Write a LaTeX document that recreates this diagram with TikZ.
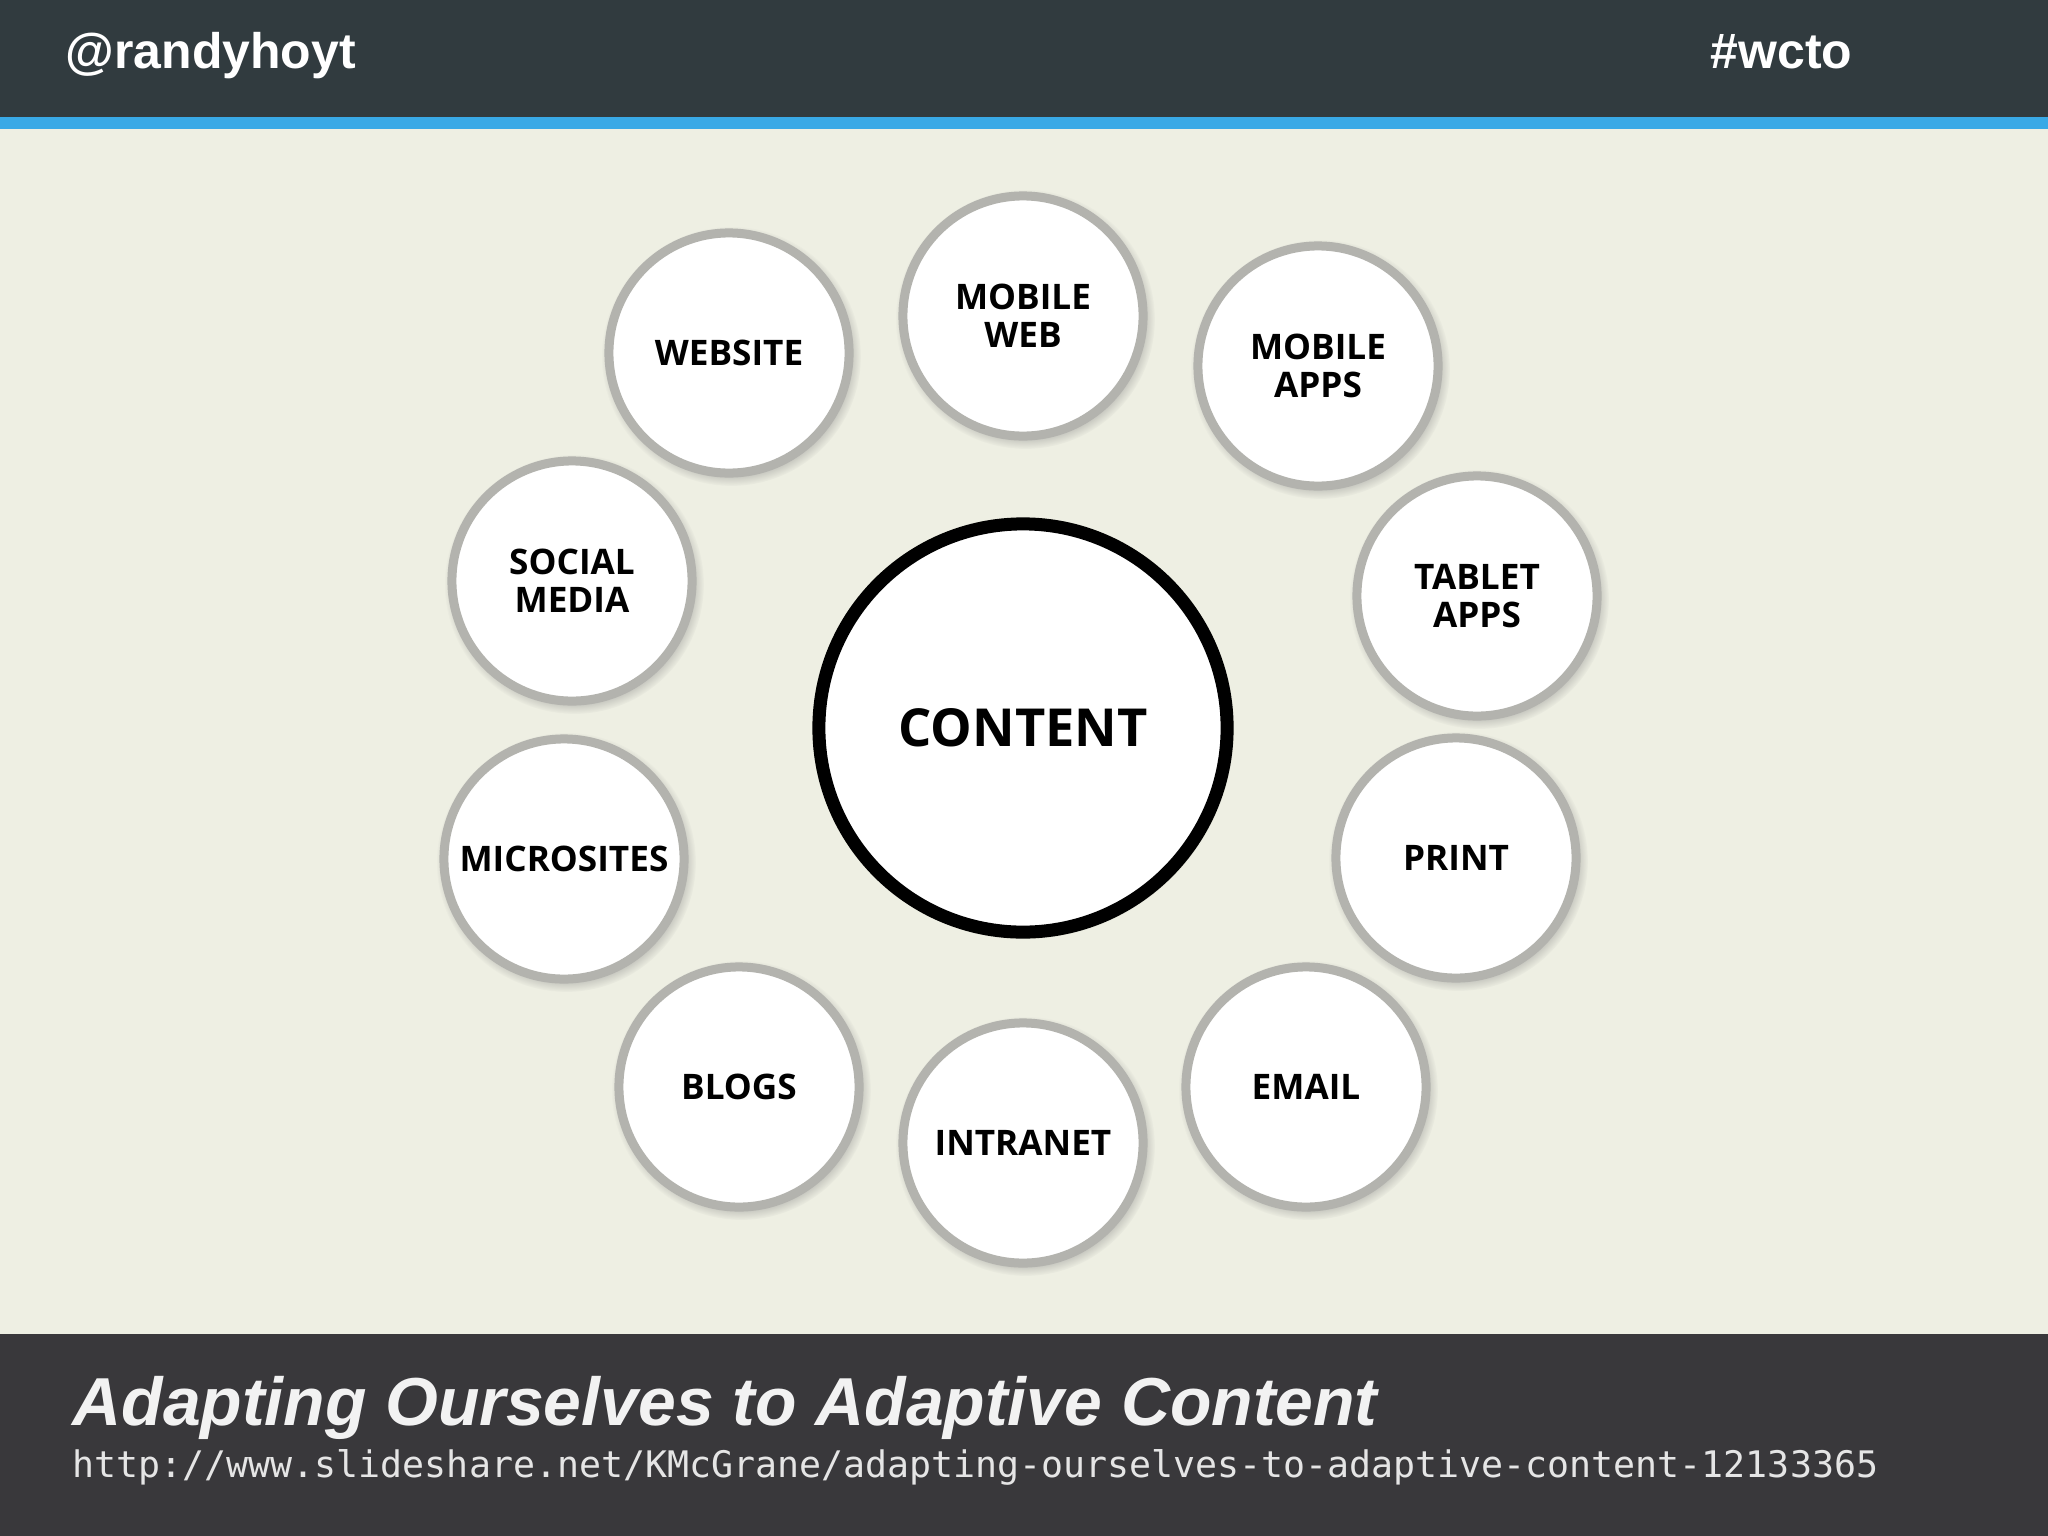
\documentclass[tikz,border=0pt]{standalone}
\usepackage{fontspec}
\usetikzlibrary{shadows}
\newfontfamily\headfont{Liberation Sans}
\newfontfamily\labelfont{Open Sans}
\newfontfamily\urlfont{DejaVu Sans Mono}
\definecolor{topbar}{HTML}{313B3F}
\definecolor{stripe}{HTML}{39A9E6}
\definecolor{cream}{HTML}{EEEFE3}
\definecolor{botbar}{HTML}{39383B}
\definecolor{ringgray}{HTML}{B3B3AE}
\tikzset{
    satellite/.style={circle, draw=ringgray, line width=0.09cm, fill=white,
        minimum size=2.4cm, inner sep=0pt, align=center,
        font=\labelfont\bfseries\fontsize{10}{10.8}\selectfont,
        circular drop shadow={shadow scale=1.08, shadow xshift=0.02cm,
            shadow yshift=-0.03cm, opacity=0.65}},
    hub/.style={circle, draw=black, line width=0.13cm, fill=white,
        minimum size=4.08cm, inner sep=0pt,
        font=\labelfont\bfseries\fontsize{14.9}{16}\selectfont,
        circular drop shadow={shadow scale=1.03, shadow xshift=0.01cm,
            shadow yshift=-0.01cm, opacity=0.4}},
    bartext/.style={anchor=base west, inner sep=0pt, text=white}
}

\begin{document}
\begin{tikzpicture}[x=0.01cm, y=-0.01cm]
    % slide background
    \fill[cream] (0,0) rectangle (2048,1536);
    \fill[topbar] (0,0) rectangle (2048,117);
    \fill[stripe] (0,117) rectangle (2048,129);
    \fill[botbar] (0,1334) rectangle (2048,1536);

    \node[bartext, font=\headfont\bfseries\fontsize{14.2}{16}\selectfont] (handle) at (65,68) {@randyhoyt};
    \node[bartext, font=\headfont\bfseries\fontsize{14.2}{16}\selectfont] (tag) at (1710,68) {\#wcto};

    \node[hub] (content) at (1023,728) {\raisebox{-0.2ex}{CONTENT}};

    \foreach \name/\x/\y/\txt in {website/729/353/WEBSITE, mweb/1023/316/{MOBILE\\WEB},
        mapps/1318/366/{MOBILE\\APPS}, tablet/1477/596/{TABLET\\APPS}, print/1456/858/PRINT,
        email/1306/1087/EMAIL, intranet/1023/1143/INTRANET, blogs/739/1087/BLOGS,
        micro/564/859/MICROSITES, social/572/581/{SOCIAL\\MEDIA}}
    {
        \node[satellite] (\name) at (\x,\y) {\txt};
    }

    \node[bartext, text=white!95!black, font=\headfont\bfseries\itshape\fontsize{19.3}{22}\selectfont] (title) at (72,1425) {Adapting Ourselves to Adaptive Content};
    \node[bartext, text=white!90!black, font=\urlfont\fontsize{10.4}{12}\selectfont] (link) at (72,1477) {http://www.slideshare.net/KMcGrane/adapting-ourselves-to-adaptive-content-12133365};
\end{tikzpicture}
\end{document}
